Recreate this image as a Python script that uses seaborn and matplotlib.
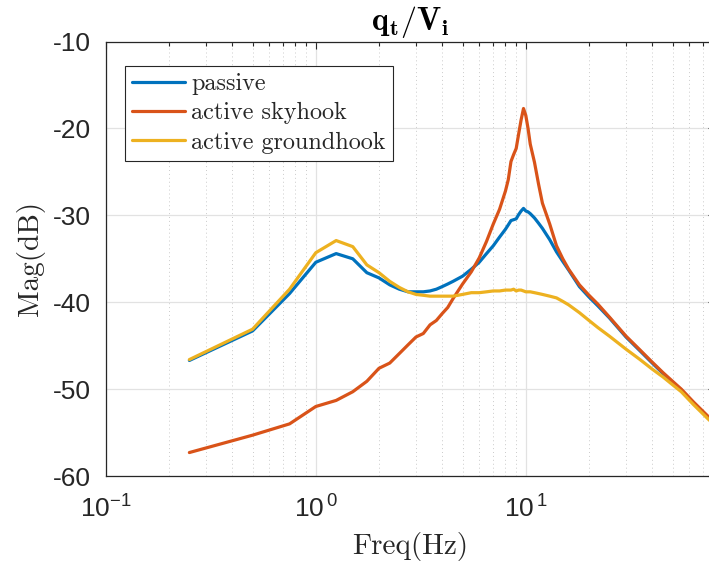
import matplotlib
matplotlib.use("Agg")
import matplotlib.pyplot as plt
import numpy as np
import pandas as pd
import seaborn as sns
from matplotlib.ticker import FixedLocator, FixedFormatter, NullLocator
from matplotlib.font_manager import FontProperties

# ---------------- data ----------------
freq = [0.25, 0.5, 0.75, 1.0, 1.25, 1.5, 1.75, 2.0, 2.25, 2.5, 2.75, 3.0, 3.25, 3.5,
        3.75, 4.0, 4.25, 4.5, 5.0, 5.5, 6.0, 6.5, 7.0, 7.5, 8.0, 8.25, 8.5, 8.75,
        9.0, 9.25, 9.5, 9.75, 10.0, 10.25, 10.5, 11.0, 11.5, 12.0, 13.0, 14.0, 15.0,
        16.0, 18.0, 20.0, 22.0, 25.0, 30.0, 35.0, 40.0, 45.0, 50.0, 55.0, 63.0, 75.0]

passive = [-46.7, -43.3, -39.0, -35.4, -34.4, -35.0, -36.6, -37.2, -38.0, -38.5,
           -38.8, -38.8, -38.8, -38.7, -38.5, -38.2, -37.9, -37.6, -37.0, -36.2,
           -35.4, -34.4, -33.5, -32.5, -31.6, -31.1, -30.6, -30.5, -30.4, -29.9,
           -29.5, -29.2, -29.5, -29.6, -29.8, -30.3, -30.9, -31.5, -32.8, -34.2,
           -35.3, -36.3, -38.2, -39.4, -40.4, -41.8, -44.0, -45.6, -47.0, -48.2,
           -49.2, -50.1, -51.6, -53.4]

skyhook = [-57.3, -55.3, -54.0, -52.0, -51.3, -50.3, -49.1, -47.6, -47.0, -45.9,
           -44.9, -44.0, -43.6, -42.6, -42.1, -41.3, -40.6, -39.6, -37.9, -36.5,
           -34.9, -33.0, -31.0, -29.3, -27.2, -25.9, -23.8, -23.0, -22.3, -20.6,
           -19.0, -17.7, -18.5, -20.0, -21.8, -23.9, -26.4, -28.6, -31.0, -33.5,
           -35.0, -36.2, -38.0, -39.2, -40.2, -41.7, -43.9, -45.5, -46.9, -48.1,
           -49.1, -50.0, -51.5, -53.3]

groundhook = [-46.6, -43.1, -38.5, -34.3, -32.9, -33.6, -35.7, -36.6, -37.6, -38.3,
              -38.8, -39.1, -39.2, -39.3, -39.3, -39.3, -39.3, -39.3, -39.1, -38.9,
              -38.9, -38.8, -38.7, -38.7, -38.6, -38.6, -38.6, -38.5, -38.7, -38.6,
              -38.6, -38.7, -38.8, -38.8, -38.8, -38.9, -39.0, -39.1, -39.3, -39.5,
              -39.9, -40.3, -41.2, -42.1, -42.9, -43.9, -45.4, -46.6, -47.7, -48.6,
              -49.5, -50.3, -51.8, -53.6]

series_names = ["passive", "active skyhook", "active groundhook"]
series_colors = ["#0072BD", "#D95319", "#EDB120"]

x_ticks = [0.1, 1, 10]
x_tick_labels = [r"$\mathregular{10^{-1}}$", r"$\mathregular{10^{\,0}}$", r"$\mathregular{10^{\,1}}$"]
y_ticks = [-60, -50, -40, -30, -20, -10]
y_tick_labels = ["-60", "-50", "-40", "-30", "-20", "-10"]

title_text = r"$\mathbf{q_t/V_i}$"
x_label = "Freq(Hz)"
y_label = "Mag(dB)"

# ---------------- styling ----------------
sns.set_theme(style="white")
plt.rcParams["font.family"] = ["Liberation Sans", "DejaVu Sans"]
plt.rcParams["axes.unicode_minus"] = False

df = pd.DataFrame({
    "freq": freq * 3,
    "mag": passive + skyhook + groundhook,
    "series": [series_names[0]] * len(freq) + [series_names[1]] * len(freq)
              + [series_names[2]] * len(freq),
})

W, H = 709, 566
fig = plt.figure(figsize=(W / 100, H / 100), dpi=100)
ax_left, ax_top, ax_bottom = 105.8, 41.6, 476.0
ax_width = 210 * np.log10(80 / 0.1)
ax = fig.add_axes([ax_left / W, (H - ax_bottom) / H, ax_width / W, (ax_bottom - ax_top) / H])

ax.set_xscale("log")
sns.lineplot(data=df, x="freq", y="mag", hue="series", palette=series_colors,
             hue_order=series_names, estimator=None, sort=False,
             linewidth=2.3, ax=ax, legend=False)

ax.set_xlim(0.1, 80)
ax.set_ylim(-60, -10)

ax.xaxis.set_major_locator(FixedLocator(x_ticks))
ax.xaxis.set_major_formatter(FixedFormatter(x_tick_labels))
ax.yaxis.set_major_locator(FixedLocator(y_ticks))
ax.yaxis.set_major_formatter(FixedFormatter(y_tick_labels))
ax.yaxis.set_minor_locator(NullLocator())

ax.set_axisbelow(True)
ax.grid(True, which="major", color="#e2e2e2", linewidth=0.9, linestyle="-")
ax.grid(True, which="minor", axis="x", color="#c4c4c4", linewidth=0.6,
        linestyle=(0, (1.2, 3.5)))

axis_col = "#262626"
for side in ["left", "bottom", "top", "right"]:
    ax.spines[side].set_visible(True)
    ax.spines[side].set_color(axis_col)
    ax.spines[side].set_linewidth(0.9)

ax.tick_params(axis="both", which="both", direction="in", top=True, right=True,
               colors=axis_col, width=0.8)
ax.tick_params(axis="both", which="major", length=5, labelsize=19)
ax.tick_params(axis="y", which="major", pad=11)
ax.tick_params(axis="x", which="minor", length=3)
ax.tick_params(axis="x", which="major", pad=14)

for lab in ax.get_xticklabels() + ax.get_yticklabels():
    lab.set_color(axis_col)

ax.set_title(title_text, math_fontfamily="cm", fontsize=23, pad=8, color="black")
ax.set_xlabel(x_label, family="cmr10", fontsize=21, labelpad=7, color=axis_col)
ax.set_ylabel(y_label, family="cmr10", fontsize=21, labelpad=5, color=axis_col)

handles = [plt.Line2D([], [], color=c, linewidth=2.3) for c in series_colors]
leg = ax.legend(handles, series_names, loc="upper left",
                bbox_to_anchor=((125 - ax_left) / ax_width, 1 - (65.7 - ax_top) / (ax_bottom - ax_top)),
                borderaxespad=0, prop=FontProperties(family="cmr10", size=17.4),
                frameon=True, fancybox=False, shadow=False, framealpha=1,
                edgecolor=axis_col, handlelength=2.2, handletextpad=0.25,
                borderpad=0.3, labelspacing=0.3)
leg.get_frame().set_linewidth(0.8)

fig.savefig("out.png", dpi=100)
